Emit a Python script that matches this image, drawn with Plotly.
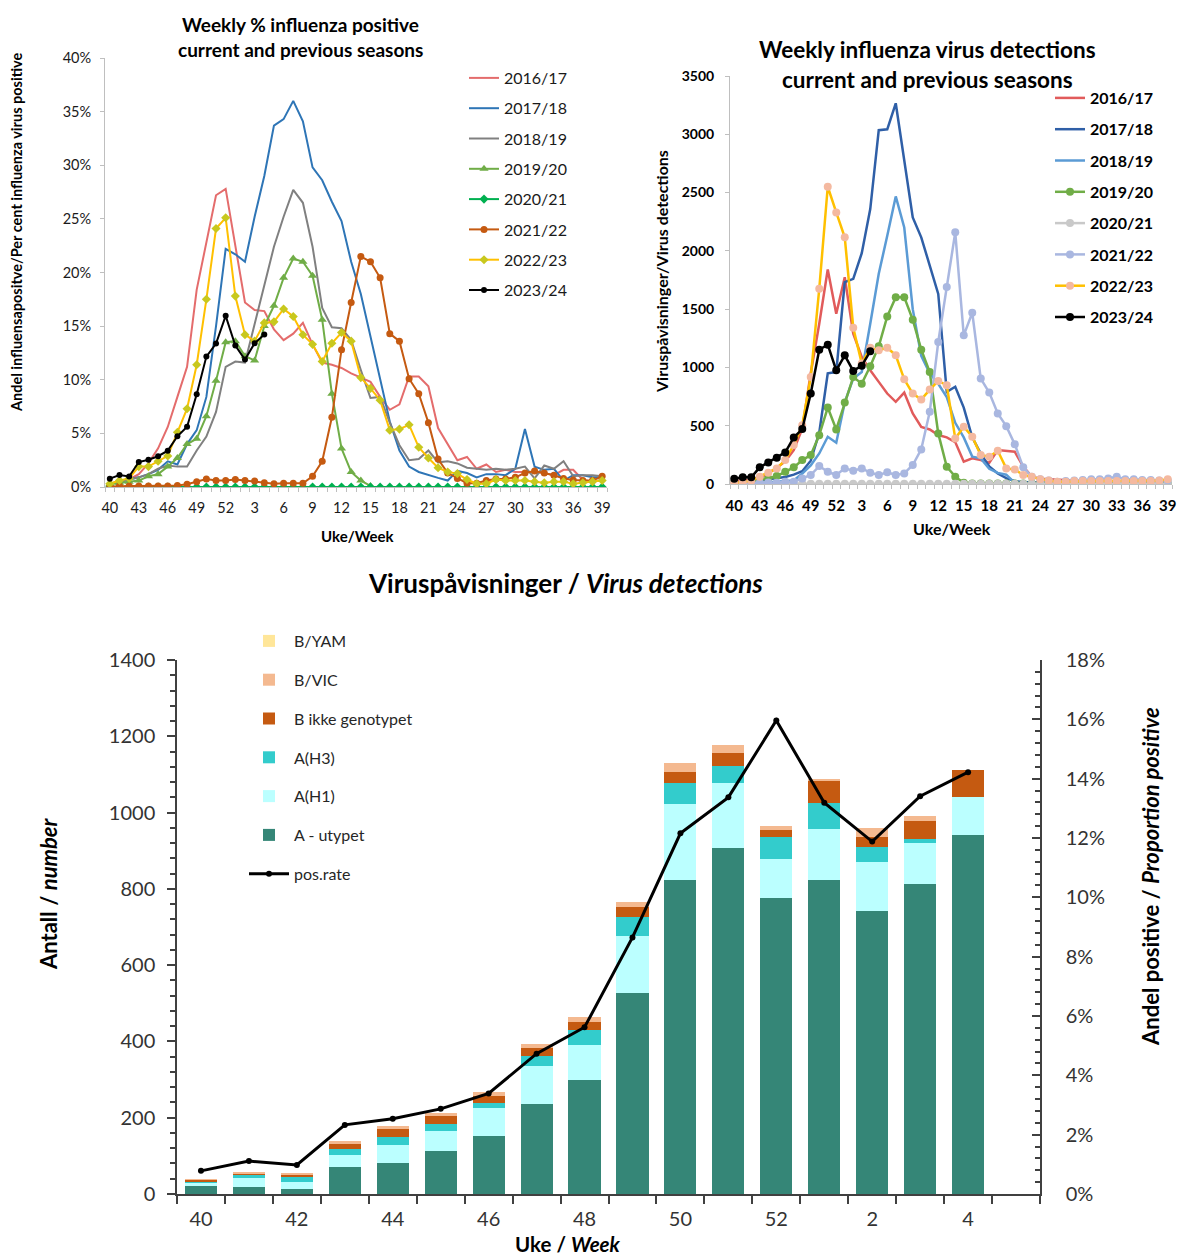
import plotly.graph_objects as go

W, H = 1179, 1255
FONT = "Lato"

# ---------------- data: top charts (weeks 40..52, 1..39) ----------------
weeks_top = ["40","41","42","43","44","45","46","47","48","49","50","51","52",
             "1","2","3","4","5","6","7","8","9","10","11","12","13","14","15",
             "16","17","18","19","20","21","22","23","24","25","26","27","28",
             "29","30","31","32","33","34","35","36","37","38","39"]
tick_labels_top = ["40","43","46","49","52","3","6","9","12","15","18","21",
                   "24","27","30","33","36","39"]

seasons = ["2016/17","2017/18","2018/19","2019/20","2020/21","2021/22","2022/23","2023/24"]

# weekly % influenza positive
pct_1617 = [0.3,0.5,0.7,1.2,2.2,3.6,5.6,8.4,11.2,18.4,22.9,27.2,27.8,22.5,17.2,16.5,16.4,14.7,13.7,14.3,
            15.3,13.3,11.6,11.4,11.1,10.6,10.2,9.8,8.4,7.2,7.7,10.3,10.3,9.4,5.5,4.0,2.5,2.8,1.7,2.1,
            1.4,1.6,1.4,1.4,1.4,1.3,1.1,1.6,1.6,0.65,0.5,0.65]
pct_1718 = [0.3,0.5,0.7,0.9,1.2,1.6,2.4,2.1,4.0,5.3,8.4,15.0,22.2,21.7,21.0,25.2,29.0,33.7,34.3,36.0,
            34.1,29.8,28.6,26.6,24.8,21.0,18.0,14.0,9.8,6.1,3.4,1.9,1.4,1.1,0.85,0.6,1.5,1.3,0.9,1.2,
            1.2,1.1,1.7,5.4,1.9,1.6,1.7,0.6,1.1,1.1,0.9,0.9]
pct_1819 = [0.3,0.5,0.7,0.9,1.2,1.7,2.0,1.9,1.9,3.4,4.7,7.0,11.2,11.7,11.6,15.2,19.0,22.4,25.2,27.7,
            26.5,22.4,16.7,14.9,14.8,13.7,10.9,8.3,8.4,6.0,3.9,2.5,2.6,3.4,2.3,2.4,2.2,1.8,1.7,1.6,
            1.7,1.6,1.7,1.9,0.8,2.0,1.7,2.4,1.0,1.1,1.1,1.0]
pct_1920 = [0.25,0.4,0.5,0.6,1.0,1.2,1.9,2.7,4.0,4.5,6.6,9.9,13.5,13.6,12.2,11.8,15.0,16.9,19.5,21.3,
            21.0,19.7,15.6,8.7,3.6,1.4,0.6,0.1]
pct_2021 = [0.0,0.0,0.0,0.0,0.0,0.0,0.0,0.0,0.0,0.0,0.0,0.0,0.0,0.0,0.0,0.0,0.0,0.0,0.0,0.0,
            0.0,0.0,0.0,0.0,0.0,0.0,0.0,0.0,0.0,0.0,0.0,0.0,0.0,0.0,0.0,0.0,0.0,0.0,0.0,0.0,
            0.0,0.0,0.0,0.0,0.0,0.0,0.0,0.0,0.0,0.0,0.0,0.0]
pct_2122 = [0.05,0.1,0.1,0.1,0.1,0.1,0.1,0.15,0.25,0.5,0.75,0.6,0.6,0.7,0.6,0.55,0.4,0.3,0.35,0.35,
            0.35,1.0,2.4,6.5,12.8,17.2,21.5,21.0,19.5,14.3,13.6,10.1,8.7,6.0,2.6,1.3,0.8,0.35,0.35,0.6,
            0.75,0.75,0.9,1.3,1.5,1.3,1.1,0.8,0.65,0.6,0.6,1.0]
pct_2223 = [0.3,0.6,0.8,1.9,1.9,2.4,2.9,5.1,7.3,11.4,17.5,24.1,25.1,17.8,14.2,13.6,15.3,15.4,16.6,15.9,
            14.2,13.3,11.7,13.4,14.4,13.6,10.2,9.2,8.1,5.3,5.4,5.8,3.7,2.7,1.8,1.4,1.25,0.7,0.3,0.3,
            0.7,0.6,0.6,0.6,0.5,0.4,0.5,0.5,0.3,0.4,0.5,0.6]
pct_2324 = [0.78,1.11,0.98,2.33,2.54,2.87,3.39,4.73,5.62,8.65,12.16,13.37,15.96,13.19,11.88,13.41,14.22]

# weekly virus detections
det_1617 = [25,30,35,50,90,140,195,290,475,950,1375,1840,1460,1774,1290,1090,975,876,776,705,
            784,605,490,468,420,400,360,191,220,205,183,291,286,277,149,63,45,40,35,30,
            30,25,25,25,20,20,20,20,20,20,15,15]
det_1718 = [10,15,20,30,40,50,60,80,110,200,440,950,960,1731,1760,1980,2359,3035,3043,3266,
            2772,2287,2116,1874,1631,790,834,655,400,260,150,90,50,25,15,15,10,10,10,10,
            10,10,10,10,10,10,10,10,10,10,10,10]
det_1819 = [5,5,8,10,15,20,30,30,90,160,262,405,354,700,904,961,1375,1803,2130,2467,
            2200,1500,1100,950,860,745,525,400,235,220,130,95,80,10,5,5,5,5,5,5,
            5,5,5,5,5,5,5,5,5,5,5,5]
det_1920 = [11,15,20,40,48,68,105,143,205,248,419,656,468,699,918,861,1010,1181,1437,1603,
            1603,1409,1152,961,434,148,63,10,5,5,5,5,5,5,5,5,5,5,5,5,
            5,5,5,5,5,5,5,5,5,5,5,5]
det_2021 = [3,3,3,3,3,3,3,3,3,3,3,3,3,3,3,3,3,3,3,3,
            3,3,3,3,3,3,3,3,3,3,3,3,3,3,3,3,3,3,3,3,
            3,3,3,3,3,3,3,3,3,3,3,3]
det_2122 = [6,10,10,11,12,11,20,20,48,77,154,105,77,134,114,134,97,77,100,77,
            91,163,297,619,1218,1689,2159,1275,1469,904,784,605,496,342,143,63,40,29,20,25,
            30,35,40,40,48,63,40,40,35,35,30,30]
det_2223 = [11,15,29,63,97,134,205,334,505,918,1674,2550,2330,2116,1341,1033,1169,1147,1169,1104,
            898,776,724,810,884,847,391,491,405,248,234,285,134,125,77,63,40,29,20,20,
            25,25,25,25,25,25,25,25,25,25,30,40]
det_2324 = [46,57,57,143,185,225,271,399,471,776,1152,1195,975,1104,970,1015,1138]

# ---------------- data: bottom chart ----------------
weeks_bot = ["40","41","42","43","44","45","46","47","48","49","50","51","52","1","2","3","4","5"]
tick_labels_bot = ["40","42","44","46","48","50","52","2","4"]
a_utypet = [21,18,14,72,80,113,153,236,299,526,822,906,776,822,742,813,940,None]
a_h1     = [9,25,17,31,49,51,72,100,92,150,201,171,103,135,129,106,100,None]
a_h3     = [4,9,14,14,20,20,14,27,40,49,54,44,57,68,40,12,0,None]
b_ikke   = [3,3,6,15,24,20,18,21,20,28,29,34,19,58,26,46,72,None]
b_vic    = [1,3,3,6,5,9,10,9,12,13,23,23,10,4,22,14,0,None]
b_yam    = [0,0,0,0,0,0,0,0,0,0,0,0,0,0,0,0,0,None]
pos_rate = [0.0078,0.0111,0.0098,0.0233,0.0254,0.0287,0.0339,0.0473,0.0562,0.0865,
            0.1216,0.1337,0.1596,0.1319,0.1188,0.1341,0.1422,None]


def px(x):
    return x / W


def py(y):
    return 1 - y / H


xt = list(range(len(weeks_top)))
xb = list(range(len(weeks_bot)))

fig = go.Figure()

# ---------------- top-left: % positive ----------------
tl_series = [pct_1617, pct_1718, pct_1819, pct_1920, pct_2021, pct_2122, pct_2223, pct_2324]
tl_styles = [
    dict(line=dict(color="#E46C6C", width=2), mode="lines"),
    dict(line=dict(color="#2E75B6", width=2), mode="lines"),
    dict(line=dict(color="#808080", width=2), mode="lines"),
    dict(line=dict(color="#70AD47", width=2), mode="lines+markers",
         marker=dict(symbol="triangle-up", size=8, color="#70AD47")),
    dict(line=dict(color="#00B050", width=2), mode="lines+markers",
         marker=dict(symbol="diamond", size=7, color="#00B050")),
    dict(line=dict(color="#C55A11", width=2), mode="lines+markers",
         marker=dict(symbol="circle", size=7, color="#C55A11")),
    dict(line=dict(color="#FFC000", width=2), mode="lines+markers",
         marker=dict(symbol="diamond", size=7, color="#C8C81E")),
    dict(line=dict(color="#000000", width=2), mode="lines+markers",
         marker=dict(symbol="circle", size=6, color="#000000")),
]
for name, vals, st in zip(seasons, tl_series, tl_styles):
    fig.add_trace(go.Scatter(x=xt[:len(vals)], y=vals, name=name, xaxis="x", yaxis="y",
                             legend="legend", legendgroup="tl" + name, **st))

# ---------------- top-right: detections ----------------
tr_series = [det_1617, det_1718, det_1819, det_1920, det_2021, det_2122, det_2223, det_2324]
tr_styles = [
    dict(line=dict(color="#E15B5B", width=2.5), mode="lines"),
    dict(line=dict(color="#2F5FA7", width=2.5), mode="lines"),
    dict(line=dict(color="#5B9BD5", width=2.5), mode="lines"),
    dict(line=dict(color="#70AD47", width=2.5), mode="lines+markers",
         marker=dict(symbol="circle", size=8, color="#70AD47")),
    dict(line=dict(color="#C9C9C9", width=2.5), mode="lines+markers",
         marker=dict(symbol="circle", size=8, color="#C9C9C9")),
    dict(line=dict(color="#A9B7E0", width=2.5), mode="lines+markers",
         marker=dict(symbol="circle", size=8, color="#A9B7E0")),
    dict(line=dict(color="#FFC000", width=2.5), mode="lines+markers",
         marker=dict(symbol="circle", size=8, color="#F4B9A0")),
    dict(line=dict(color="#000000", width=2.5), mode="lines+markers",
         marker=dict(symbol="circle", size=8, color="#000000")),
]
for name, vals, st in zip(seasons, tr_series, tr_styles):
    fig.add_trace(go.Scatter(x=xt[:len(vals)], y=vals, name=name, xaxis="x2", yaxis="y2",
                             legend="legend2", legendgroup="tr" + name, **st))

# ---------------- bottom: stacked bars + pos.rate ----------------
bar_specs = [
    ("A - utypet", a_utypet, "#358677", 6),
    ("A(H1)", a_h1, "#BBFFFF", 5),
    ("A(H3)", a_h3, "#33CCCC", 4),
    ("B ikke genotypet", b_ikke, "#C55A11", 3),
    ("B/VIC", b_vic, "#F4B990", 2),
    ("B/YAM", b_yam, "#FFE699", 1),
]
for name, vals, col, rank in bar_specs:
    fig.add_trace(go.Bar(x=xb, y=vals, name=name, xaxis="x3", yaxis="y3",
                         marker=dict(color=col, line=dict(width=0)),
                         legend="legend3", legendgroup="b_" + name, legendrank=rank))
fig.add_trace(go.Scatter(x=xb, y=pos_rate, name="pos.rate", xaxis="x3", yaxis="y4",
                         mode="lines+markers", line=dict(color="#000000", width=3),
                         marker=dict(symbol="circle", size=6, color="#000000"),
                         legend="legend3", legendgroup="b_pos", legendrank=7))

# ---------------- axes ----------------
gray = "#BFBFBF"
tl_tickvals = [weeks_top.index(t) for t in tick_labels_top]
bot_tickvals = [weeks_bot.index(t) for t in tick_labels_bot]
minor_top = dict(tickmode="array", tickvals=[i - 0.5 for i in range(len(weeks_top) + 1)],
                 ticks="outside", ticklen=4, tickcolor=gray, tickwidth=1)

layout = dict(
    width=W, height=H, margin=dict(l=0, r=0, t=0, b=0, pad=0, autoexpand=False),
    paper_bgcolor="white", plot_bgcolor="white",
    font=dict(family=FONT, color="#000000"),
    barmode="stack", bargap=0.33,
    xaxis=dict(domain=[px(105), px(607)], anchor="y", range=[-0.5, 51.5], automargin=False,
               tickmode="array", tickvals=tl_tickvals, ticktext=tick_labels_top,
               ticks="", showline=True, linecolor=gray, linewidth=1, showgrid=False,
               zeroline=False, minor=minor_top, ticklabelstandoff=8,
               tickfont=dict(family=FONT, size=14.5, color="#1a1a1a")),
    yaxis=dict(domain=[py(487), py(58)], anchor="x", range=[0, 40], dtick=5, automargin=False,
               ticksuffix="%", ticks="outside", ticklen=4, tickcolor=gray, ticklabelstandoff=6,
               showline=True, linecolor=gray, linewidth=1, showgrid=False, zeroline=False,
               tickfont=dict(family=FONT, size=14.5, color="#1a1a1a")),
    xaxis2=dict(domain=[px(730), px(1172)], anchor="y2", range=[-0.5, 51.5], automargin=False,
                tickmode="array", tickvals=tl_tickvals, ticktext=tick_labels_top,
                ticks="", showline=True, linecolor=gray, linewidth=1, showgrid=False,
                zeroline=False, minor=minor_top, ticklabelstandoff=8,
                tickfont=dict(family=FONT, size=15, color="#000000", weight="bold")),
    yaxis2=dict(domain=[py(484), py(76)], anchor="x2", range=[0, 3500], dtick=500,
                automargin=False, ticks="outside", ticklen=4, tickcolor=gray, ticklabelstandoff=8,
                showline=True, linecolor=gray, linewidth=1, showgrid=False, zeroline=False,
                tickfont=dict(family=FONT, size=14, color="#000000", weight="bold")),
    xaxis3=dict(domain=[px(177), px(1040)], anchor="y3", range=[-0.5, 17.5], automargin=False,
                tickmode="array", tickvals=bot_tickvals, ticktext=tick_labels_bot,
                ticks="", showline=True, linecolor="#404040", linewidth=1.5, showgrid=False,
                zeroline=False, ticklabelstandoff=6,
                minor=dict(tickmode="array", tickvals=[i - 0.5 for i in range(len(weeks_bot) + 1)],
                           ticks="outside", ticklen=8, tickcolor="#404040", tickwidth=1.5),
                tickfont=dict(family=FONT, size=20, color="#333333")),
    yaxis3=dict(domain=[py(1194), py(660)], anchor="x3", range=[0, 1400], dtick=200,
                automargin=False, ticks="outside", ticklen=8, tickcolor="#404040", tickwidth=1.5,
                ticklabelstandoff=8,
                showline=True, linecolor="#404040", linewidth=1.5, showgrid=False, zeroline=False,
                minor=dict(dtick=40, ticks="outside", ticklen=5, tickcolor="#404040"),
                tickfont=dict(family=FONT, size=20, color="#333333")),
    yaxis4=dict(overlaying="y3", anchor="x3", side="right", range=[0, 0.18], dtick=0.02,
                automargin=False, tickformat=".0%", ticks="inside", ticklen=8,
                tickcolor="#404040", tickwidth=1.5, ticklabelstandoff=20,
                showline=True, linecolor="#404040", linewidth=1.5, showgrid=False, zeroline=False,
                minor=dict(dtick=0.004, ticks="inside", ticklen=5, tickcolor="#404040"),
                tickfont=dict(family=FONT, size=20, color="#333333")),
    legend=dict(x=px(464), y=py(61), xanchor="left", yanchor="top", traceorder="grouped",
                tracegroupgap=6.5, bgcolor="rgba(0,0,0,0)", itemwidth=30,
                font=dict(family=FONT, size=16, color="#1a1a1a")),
    legend2=dict(x=px(1050), y=py(81), xanchor="left", yanchor="top", traceorder="grouped",
                 tracegroupgap=7.5, bgcolor="rgba(0,0,0,0)", itemwidth=30,
                 font=dict(family=FONT, size=16, color="#000000", weight="bold")),
    legend3=dict(x=px(244), y=py(624), xanchor="left", yanchor="top",
                 traceorder="grouped", tracegroupgap=15,
                 bgcolor="rgba(0,0,0,0)", itemwidth=40,
                 font=dict(family=FONT, size=16, color="#262626")),
)
fig.update_layout(**layout)


def ann(text, x, y, size, angle=0, color="#000000"):
    fig.add_annotation(text=text, x=px(x), y=py(y), xref="paper", yref="paper",
                       showarrow=False, xanchor="center", yanchor="middle",
                       textangle=angle, font=dict(family=FONT, size=size, color=color))


ann("<b>Weekly % influenza positive</b>", 300, 25, 19)
ann("<b>current and previous seasons</b>", 300, 50, 19)
ann("<b>Andel influensapositve/Per cent influenza virus positive</b>", 16, 233, 14.5, -90)
ann("<b>Uke/Week</b>", 358, 536, 15)

ann("<b>Weekly influenza virus detections</b>", 927, 50, 22.5)
ann("<b>current and previous seasons</b>", 927, 80, 22.5)
ann("<b>Viruspåvisninger/Virus detections</b>", 662, 272, 16, -90)
ann("<b>Uke/Week</b>", 952, 529, 16)

ann("<b>Viruspåvisninger / <i>Virus detections</i></b>", 565, 583, 26)
ann("<b>Antall / <i>number</i></b>", 48, 894, 22, -90)
ann("<b>Andel positive / <i>Proportion positive</i></b>", 1150, 877, 22, -90)
ann("<b>Uke / <i>Week</i></b>", 568, 1244, 20.5)

fig.write_html("out.html")
